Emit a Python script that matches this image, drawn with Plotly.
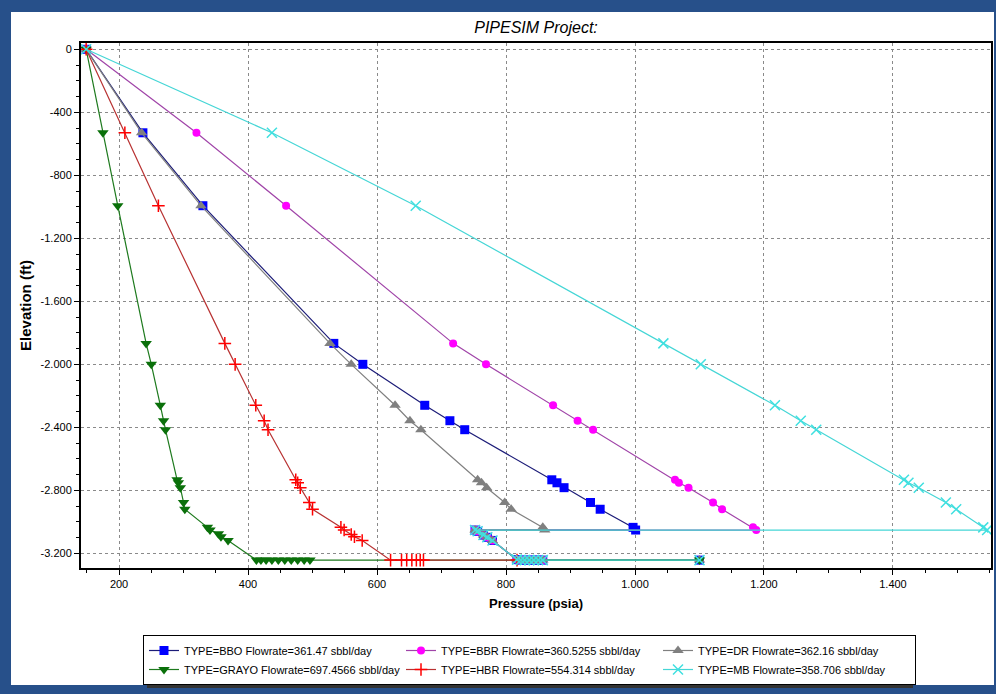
import plotly.graph_objects as go

# ---------------- data ----------------
ELEV_TUBING = [0, -530, -993, -1867, -2000, -2260, -2358, -2415, -2733, -2752, -2783, -2877, -2920, -3035, -3052]

BBO_P = [149, 237, 330, 533, 578, 674, 713, 736, 871, 879, 890, 931, 946, 997, 1001]
BBR_P = [149, 320, 459, 718, 769, 873, 911, 935, 1062, 1068, 1083, 1121, 1135, 1183, 1188]
DR_P = [149, 235, 327, 527, 560, 628, 651, 668, 756, 762, 770, 798, 808, 857, 860]
MB_P = [149, 437, 660, 1044, 1102, 1217, 1257, 1281, 1417, 1424, 1440, 1482, 1498, 1540, 1546]

# shared flowline section after the pressure drop at -3052 ft
TAIL_P = [752, 756, 765, 771, 779, 817, 823, 829, 836, 843, 850, 857]
TAIL_E = [-3052, -3060, -3084, -3098, -3118, -3240, -3243, -3243, -3243, -3243, -3243, -3243]
END_P = [1100]
END_E = [-3243]

GRAYO_P = [149, 175, 198, 242, 250, 264, 269, 272, 290, 292, 295, 300, 302, 337, 341, 354, 358, 369,
           413, 420, 428, 437, 447, 457, 467, 477, 487, 496, 1100]
GRAYO_E = [0, -530, -993, -1867, -2000, -2260, -2358, -2415, -2733, -2752, -2783, -2877, -2920,
           -3035, -3052, -3075, -3095, -3118,
           -3243, -3243, -3243, -3243, -3243, -3243, -3243, -3243, -3243, -3243, -3243]

HBR_P = [149, 209, 261, 364, 380, 412, 425, 431, 474, 477, 481, 495, 500, 544, 549, 560, 565, 577,
         621, 638, 646, 654, 661, 667, 672, 817]
HBR_E = [0, -530, -993, -1867, -2000, -2260, -2358, -2415, -2733, -2752, -2783, -2877, -2920,
         -3035, -3052, -3080, -3095, -3118,
         -3243, -3243, -3243, -3243, -3243, -3243, -3243, -3243]

NAMES = {
    "BBO": "TYPE=BBO Flowrate=361.47 sbbl/day",
    "BBR": "TYPE=BBR Flowrate=360.5255 sbbl/day",
    "DR": "TYPE=DR Flowrate=362.16 sbbl/day",
    "GRAYO": "TYPE=GRAYO Flowrate=697.4566 sbbl/day",
    "HBR": "TYPE=HBR Flowrate=554.314 sbbl/day",
    "MB": "TYPE=MB Flowrate=358.706 sbbl/day",
}

X_TICKS = [200, 400, 600, 800, 1000, 1200, 1400]
X_TICKTEXT = ["200", "400", "600", "800", "1.000", "1.200", "1.400"]
Y_TICKS = [0, -400, -800, -1200, -1600, -2000, -2400, -2800, -3200]
Y_TICKTEXT = ["0", "-400", "-800", "-1.200", "-1.600", "-2.000", "-2.400", "-2.800", "-3.200"]

# ---------------- series assembly ----------------
series = [
    ("BBO", BBO_P + TAIL_P + END_P, ELEV_TUBING + TAIL_E + END_E,
     "#1c1c78", dict(symbol="square", size=9, color="#0000ff")),
    ("BBR", BBR_P + TAIL_P, ELEV_TUBING + TAIL_E,
     "#a044a8", dict(symbol="circle", size=8, color="#ff00ff")),
    ("DR", DR_P + TAIL_P + END_P, ELEV_TUBING + TAIL_E + END_E,
     "#808080", dict(symbol="triangle-up", size=10, color="#808080")),
    ("GRAYO", GRAYO_P, GRAYO_E,
     "#1e7a1e", dict(symbol="triangle-down", size=10, color="#0a700a")),
    ("HBR", HBR_P, HBR_E,
     "#b83232", dict(symbol="cross-thin-open", size=9, color="#ff0000",
                     line=dict(color="#ff0000", width=1.5))),
    ("MB", MB_P + TAIL_P + END_P, ELEV_TUBING + TAIL_E + END_E,
     "#45d6d6", dict(symbol="x-thin-open", size=10, color="#40e0e0",
                     line=dict(color="#40e0e0", width=1.5))),
]

fig = go.Figure()
for key, xs, ys, lc, mk in series:
    fig.add_trace(go.Scatter(
        x=xs, y=ys, mode="lines+markers", name=NAMES[key],
        line=dict(color=lc, width=1.2), marker=mk,
    ))

# ---------------- layout ----------------
W, H = 996, 694
L, R, T, B = 81, 5, 43, 126
PW, PH = W - L - R, H - T - B

def pxx(v):
    return (v - L) / PW

def pxy(v):
    return (H - B - v) / PH

FONT = "Arial, Liberation Sans, sans-serif"
BLUE = "#27508a"

axis_common = dict(
    showline=True, linecolor="black", linewidth=2, mirror=True,
    showgrid=True, gridcolor="#8a8a8a", gridwidth=1, griddash="3px,3px",
    zeroline=False, ticks="outside", ticklen=5, tickcolor="black",
    tickfont=dict(family=FONT, size=11, color="black"),
    automargin=False,
)

fig.update_layout(
    width=W, height=H,
    margin=dict(l=L, r=R, t=T, b=B, pad=0, autoexpand=False),
    paper_bgcolor=BLUE, plot_bgcolor="white",
    font=dict(family=FONT, color="black"),
    title=dict(text="<i>PIPESIM Project:</i>", font=dict(family=FONT, size=16, color="black"),
               x=0.5, xref="paper", xanchor="center", yref="container",
               y=1 - 27 / H, yanchor="middle", automargin=False),
    xaxis=dict(
        range=[141, 1552], tickmode="array", tickvals=X_TICKS, ticktext=X_TICKTEXT,
        title=dict(text="<b>Pressure (psia)</b>", font=dict(family=FONT, size=13, color="black"),
                   standoff=10),
        minor=dict(tickmode="linear", tick0=0, dtick=50, ticks="outside", ticklen=3,
                   tickcolor="black", showgrid=False),
        **axis_common,
    ),
    yaxis=dict(
        range=[-3293, 40], tickmode="array", tickvals=Y_TICKS, ticktext=Y_TICKTEXT,
        title=dict(text="<b>Elevation (ft)</b>", font=dict(family=FONT, size=15, color="black"),
                   standoff=5),
        minor=dict(tickmode="linear", tick0=0, dtick=100, ticks="outside", ticklen=3,
                   tickcolor="black", showgrid=False),
        **axis_common,
    ),
    legend=dict(
        orientation="h", x=pxx(143), y=pxy(635), xanchor="left", yanchor="top",
        bgcolor="white", bordercolor="black", borderwidth=1,
        font=dict(family=FONT, size=11, color="black"),
        entrywidth=212, entrywidthmode="pixels", tracegroupgap=0, itemsizing="trace",
    ),
    shapes=[
        # white inner panel inside the blue frame
        dict(type="rect", xref="paper", yref="paper", layer="below",
             x0=pxx(11), x1=pxx(994), y0=pxy(685), y1=pxy(12),
             fillcolor="white", line=dict(width=0)),
        # legend drop shadow
        dict(type="rect", xref="paper", yref="paper", layer="below",
             x0=pxx(147), x1=pxx(913), y0=pxy(688), y1=pxy(640),
             fillcolor="#333333", line=dict(width=0)),
    ],
    showlegend=True,
)

fig.write_html("out.html", post_script="document.body.style.margin='0';",
               config={"displayModeBar": False})
